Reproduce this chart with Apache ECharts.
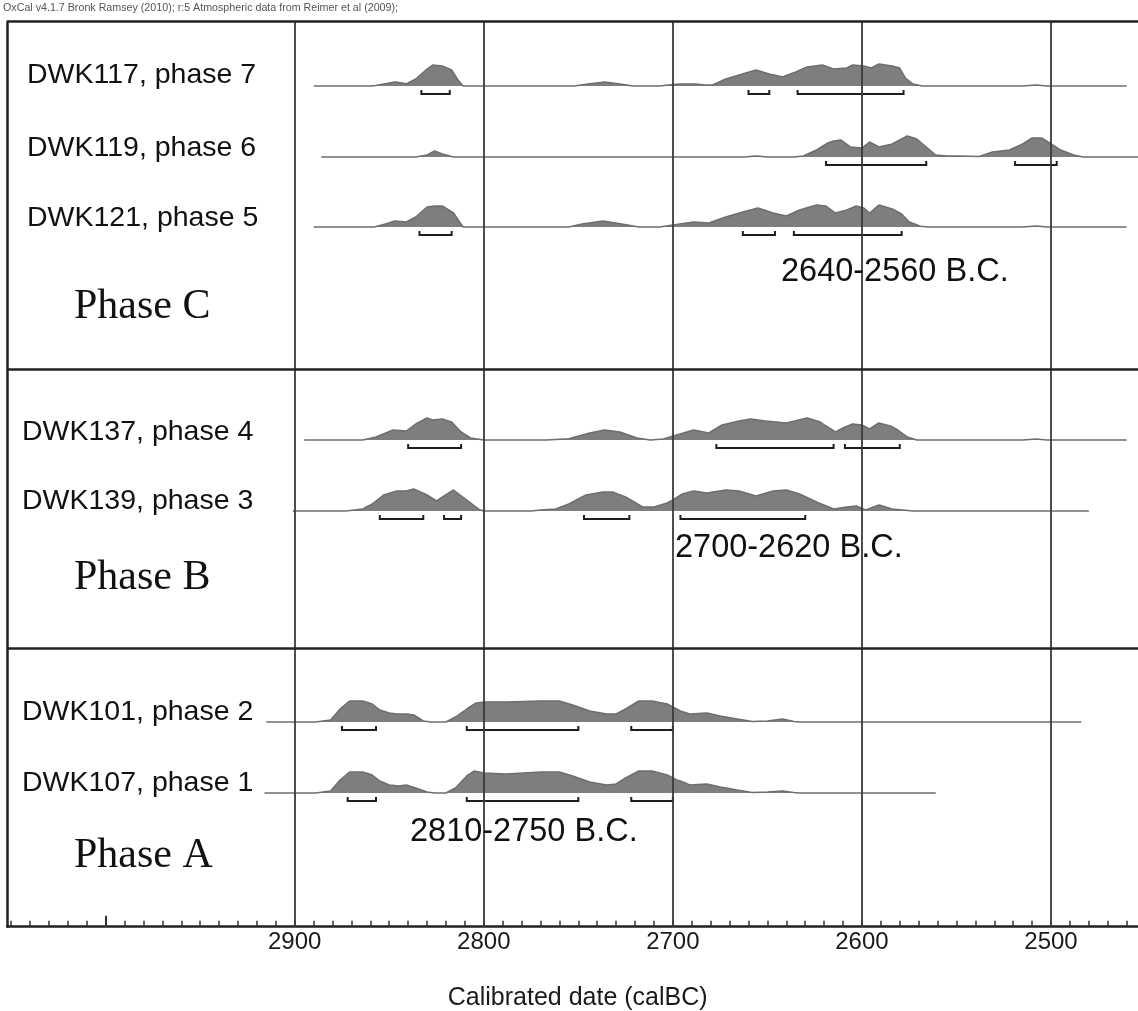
<!DOCTYPE html>
<html>
<head>
<meta charset="utf-8">
<script src="https://cdn.jsdelivr.net/npm/echarts@6/dist/echarts.min.js"></script>
<style>
  html, body { margin: 0; padding: 0; background: #fff; }
  #chart { width: 1138px; height: 1011px; }
</style>
</head>
<body>
<div id="chart"></div>
<script>
// ---- data -------------------------------------------------------------
const rowLabels = [
  'DWK117, phase 7', 'DWK119, phase 6', 'DWK121, phase 5',
  'DWK137, phase 4', 'DWK139, phase 3',
  'DWK101, phase 2', 'DWK107, phase 1'
];

// calibrated probability profiles: [year calBC, relative density]
const dwk117 = [
  [2890,0],[2860,0],[2857,0.5],[2850,3],[2847,4],[2843,3],[2841,2],[2836,7],[2830,17],[2827,21],[2822,20],[2817,16],[2814,7],[2811,0],
  [2752,0],[2745,2],[2736,4],[2728,2],[2721,0],
  [2707,0],[2700,1.5],[2696,2],[2688,2],[2683,1],[2679,1],[2672,7],[2665,11],[2656,16],[2649,12],[2642,9],[2635,14],[2629,19],[2621,21],[2615,17],[2608,18],[2605,21],[2599,20],[2595,18],[2591,22],[2584,20],[2580,18],[2577,8],[2573,2],[2568,0],
  [2515,0],[2508,1],[2502,0],[2460,0]
];
const dwk119 = [
  [2886,0],[2836,0],[2830,2],[2826,6],[2822,3],[2816,0],
  [2662,0],[2656,1],[2650,0],
  [2636,0],[2631,1],[2624,7],[2618,14],[2615,16],[2611,17],[2606,10],[2600,9],[2596,15],[2591,10],[2584,13],[2576,21],[2571,18],[2566,10],[2561,2],[2555,1],[2548,1],[2538,0.5],[2531,5],[2522,7],[2515,13],[2510,19],[2505,19],[2500,13],[2495,7],[2488,2],[2483,0],[2454,0]
];
const dwk121 = [
  [2890,0],[2858,0],[2852,3],[2847,6],[2841,5],[2836,10],[2830,20],[2826,21],[2822,21],[2816,14],[2811,0],
  [2755,0],[2748,3],[2737,6],[2727,3],[2718,0],
  [2707,0],[2700,2],[2689,5],[2681,4],[2672,10],[2663,15],[2655,19],[2647,14],[2640,11],[2633,17],[2624,22],[2619,21],[2614,14],[2608,17],[2603,21],[2599,19],[2596,14],[2591,22],[2584,18],[2579,13],[2575,5],[2569,0.7],[2565,0],
  [2515,0],[2508,1],[2502,0],[2460,0]
];
const dwk137 = [
  [2895,0],[2864,0],[2857,3],[2848,10],[2841,9],[2836,16],[2830,22],[2827,20],[2822,21],[2817,18],[2812,8],[2807,2],[2800,0],
  [2767,0],[2755,1.3],[2744,7],[2736,10],[2728,8],[2719,2],[2712,0],
  [2705,1],[2698,5],[2689,10],[2681,7],[2674,15],[2665,19],[2659,21],[2651,19],[2640,17],[2629,22],[2622,18],[2619,14],[2614,8],[2610,12],[2605,16],[2600,15],[2596,11],[2591,17],[2585,14],[2581,10],[2576,3],[2571,0],
  [2515,0],[2508,1],[2502,0],[2460,0]
];
const dwk139 = [
  [2901,0],[2873,0],[2864,2],[2859,7],[2853,16],[2846,20],[2841,20],[2837,22],[2830,16],[2825,10],[2821,15],[2816,21],[2809,11],[2802,1],[2800,0],
  [2775,0],[2770,1],[2762,2],[2755,7],[2746,16],[2737,19],[2732,19],[2725,14],[2716,4],[2710,4],[2703,8],[2700,11],[2695,17],[2689,20],[2682,18],[2672,21],[2665,20],[2656,15],[2647,20],[2640,21],[2633,17],[2624,9],[2615,2],[2608,4],[2603,5],[2598,1],[2591,6],[2584,2],[2573,0],[2480,0]
];
const dwk101 = [
  [2915,0],[2889,0],[2881,2],[2876,13],[2871,21],[2864,21],[2859,18],[2855,12],[2850,9],[2846,8],[2841,8],[2837,7],[2832,1],[2828,0],
  [2820,0],[2815,5],[2809,13],[2804,19],[2799,20],[2788,20],[2770,21],[2760,21],[2753,17],[2744,11],[2735,8],[2730,8],[2725,13],[2718,21],[2711,21],[2703,18],[2698,13],[2696,11],[2691,8],[2682,9],[2675,6],[2666,3],[2658,0.5],[2650,1],[2642,3],[2636,0.5],[2633,0],[2484,0]
];
const dwk107 = [
  [2916,0],[2889,0],[2881,2],[2876,13],[2871,21],[2864,21],[2859,18],[2855,12],[2850,8],[2845,7],[2841,8],[2836,5],[2830,1],[2826,0],
  [2820,0],[2815,5],[2809,17],[2805,22],[2800,20],[2788,19],[2770,21],[2760,21],[2753,17],[2744,11],[2735,8],[2730,9],[2725,15],[2718,22],[2711,22],[2703,18],[2698,13],[2696,12],[2691,8],[2682,9],[2675,6],[2666,3],[2658,0.5],[2650,1],[2642,2],[2636,0.5],[2633,0],[2561,0]
];
const profiles = [dwk117, dwk119, dwk121, dwk137, dwk139, dwk101, dwk107];

// highest posterior density ranges (from, to) per row
const hpdRanges = [
  [[2833,2818],[2660,2649],[2634,2578]],
  [[2619,2566],[2519,2497]],
  [[2834,2817],[2663,2646],[2636,2579]],
  [[2840,2812],[2677,2615],[2609,2580]],
  [[2855,2832],[2821,2812],[2747,2723],[2696,2630]],
  [[2875,2857],[2809,2750],[2722,2700]],
  [[2872,2857],[2809,2750],[2722,2700]]
];

const phaseNames = ['Phase C', 'Phase B', 'Phase A'];
const phaseRanges = ['2640-2560 B.C.', '2700-2620 B.C.', '2810-2750 B.C.'];

const tickLabels = [2900, 2800, 2700, 2600, 2500];
const minorTicks = [];
for (let y = 2460; y <= 3050; y += 10) minorTicks.push(y);
const majorTicks = [3000];

// ---- layout -------------------------------------------------------------
const W = 1138, H = 1011;
const plotLeft = 7.3, plotTop = 21.7, plotBottom = 926.7;
const yearMin = 2454, yearMax = 3052;
const rowBaseY = [86, 157, 227, 440, 511, 722, 793];
const rowLabelX = [27, 27, 27, 22, 22, 22, 22];
const rowLabelY = [75, 148, 218, 432, 501, 712, 783];
const panelBreaks = [0, 347.3, 626.3];          // plot units below the top frame
const phaseLabelPos = [[74, 307], [74, 578], [74, 856]];
const rangeLabelPos = [[781, 272], [675, 548], [410, 832]];

const ROW_UP = 28, ROW_DOWN = 12;
const sans = 'Liberation Sans, Arial, Helvetica, sans-serif';
const serif = 'Liberation Serif, Times New Roman, serif';

const grids = [], xAxes = [], yAxes = [], series = [];

profiles.forEach((prof, i) => {
  grids.push({ left: plotLeft, right: 0, top: rowBaseY[i] - ROW_UP, height: ROW_UP + ROW_DOWN,
               containLabel: false, outerBoundsMode: 'none' });
  xAxes.push({ gridIndex: i, type: 'value', inverse: true, min: yearMin, max: yearMax, show: false });
  yAxes.push({ gridIndex: i, type: 'value', min: -ROW_DOWN, max: ROW_UP, show: false });
  series.push({
    type: 'line', xAxisIndex: i, yAxisIndex: i, data: prof,
    symbol: 'none', smooth: false, silent: true, z: 2,
    lineStyle: { color: '#6e6e6e', width: 1.5 },
    areaStyle: { color: '#7e7e7e', opacity: 1, origin: 0 }
  });
  series.push({
    type: 'custom', xAxisIndex: i, yAxisIndex: i, silent: true, z: 3,
    data: hpdRanges[i],
    encode: { x: [0, 1] },
    renderItem: function (params, api) {
      const a = api.value(0), b = api.value(1);
      const p1 = api.coord([a, -4]), p2 = api.coord([a, -8]);
      const p3 = api.coord([b, -8]), p4 = api.coord([b, -4]);
      return {
        type: 'polyline',
        shape: { points: [p1, p2, p3, p4] },
        style: { stroke: '#1e1e1e', lineWidth: 2, fill: null }
      };
    }
  });
});

// frame grid carrying the calibrated time axis
const G = profiles.length;
grids.push({ left: plotLeft, right: 0, top: plotTop, bottom: H - plotBottom,
             containLabel: false, outerBoundsMode: 'none' });
xAxes.push({
  gridIndex: G, type: 'value', inverse: true, min: yearMin, max: yearMax,
  position: 'bottom',
  axisLine: { show: true, onZero: false, lineStyle: { color: '#222', width: 2.5 } },
  axisTick: { show: true, inside: true, length: 6, customValues: minorTicks, lineStyle: { color: '#333', width: 1.5 } },
  axisLabel: { show: true, customValues: tickLabels, formatter: v => String(v), margin: 4,
               fontSize: 24, color: '#1a1a1a', fontFamily: sans },
  splitLine: { show: false },
  name: 'Calibrated date (calBC)', nameLocation: 'middle', nameGap: 59,
  nameTextStyle: { fontSize: 25, color: '#1a1a1a', fontFamily: sans, padding: [0, 0, 0, 10] }
});
yAxes.push({
  gridIndex: G, type: 'value', inverse: true, min: 0, max: plotBottom - plotTop,
  axisLine: { show: true, onZero: false, lineStyle: { color: '#222', width: 2.5 } },
  axisTick: { show: false }, axisLabel: { show: false }, splitLine: { show: false }
});
// overlay grid for the longer century tick left of the labelled range
grids.push({ left: plotLeft, right: 0, top: plotTop, bottom: H - plotBottom,
             containLabel: false, outerBoundsMode: 'none' });
xAxes.push({
  gridIndex: G + 1, type: 'value', inverse: true, min: yearMin, max: yearMax,
  position: 'bottom',
  axisLine: { show: false, onZero: false },
  axisTick: { show: true, inside: true, length: 11, customValues: majorTicks, lineStyle: { color: '#333', width: 2 } },
  axisLabel: { show: false }, splitLine: { show: false }
});
yAxes.push({ gridIndex: G + 1, type: 'value', min: 0, max: 1, show: false });

series.push({
  type: 'line', xAxisIndex: G, yAxisIndex: G, data: [], silent: true, z: 5,
  markLine: {
    silent: true, symbol: 'none', label: { show: false }, animation: false,
    lineStyle: { color: '#3a3a3a', width: 1.8, type: 'solid' },
    data: tickLabels.map(v => ({ xAxis: v }))
  }
});
series.push({
  type: 'line', xAxisIndex: G, yAxisIndex: G, data: [], silent: true, z: 5,
  markLine: {
    silent: true, symbol: 'none', label: { show: false }, animation: false,
    lineStyle: { color: '#222', width: 2.5, type: 'solid' },
    data: panelBreaks.map(v => ({ yAxis: v }))
  }
});

// ---- text -----------------------------------------------------------------
const graphic = [];
graphic.push({
  type: 'text', x: 3, y: 8, silent: true,
  style: { text: 'OxCal v4.1.7 Bronk Ramsey (2010); r:5 Atmospheric data from Reimer et al (2009);',
           font: '10.7px ' + sans, fill: '#555', verticalAlign: 'middle' }
});
rowLabels.forEach((t, i) => graphic.push({
  type: 'text', x: rowLabelX[i], y: rowLabelY[i], silent: true,
  style: { text: t, font: '28.5px ' + sans, fill: '#111', verticalAlign: 'middle' }
}));
phaseNames.forEach((t, i) => graphic.push({
  type: 'text', x: phaseLabelPos[i][0], y: phaseLabelPos[i][1], silent: true,
  style: { text: t, font: '42px ' + serif, fill: '#111', verticalAlign: 'middle' }
}));
phaseRanges.forEach((t, i) => graphic.push({
  type: 'text', x: rangeLabelPos[i][0], y: rangeLabelPos[i][1], silent: true, z: 10,
  style: { text: t, font: '32.5px ' + sans, fill: '#111', verticalAlign: 'middle' }
}));

const chart = echarts.init(document.getElementById('chart'), null, { renderer: 'canvas' });
chart.setOption({
  animation: false,
  backgroundColor: '#fff',
  grid: grids,
  xAxis: xAxes,
  yAxis: yAxes,
  series: series,
  graphic: graphic
});
</script>
</body>
</html>
